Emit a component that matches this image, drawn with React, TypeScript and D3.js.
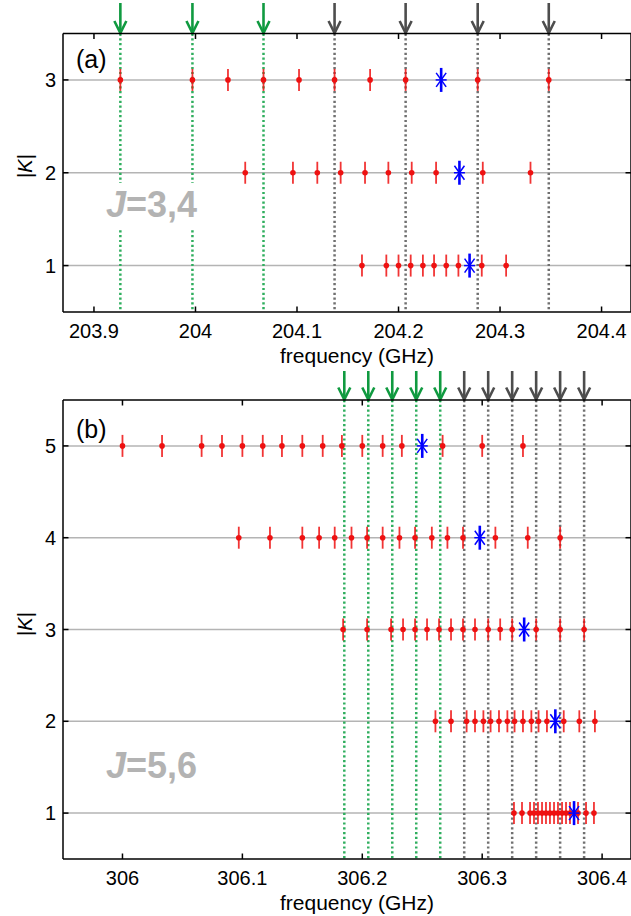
import React from 'react';
import * as d3 from 'd3';

// ---------- data ----------
const xTicksA = [203.9, 204, 204.1, 204.2, 204.3, 204.4];
const xTickLabelsA = ['203.9', '204', '204.1', '204.2', '204.3', '204.4'];
const yTicksA = [1, 2, 3];
const xTicksB = [306, 306.1, 306.2, 306.3, 306.4];
const xTickLabelsB = ['306', '306.1', '306.2', '306.3', '306.4'];
const yTicksB = [1, 2, 3, 4, 5];

const aK3 = [203.926, 203.997, 204.032, 204.067, 204.102, 204.137, 204.172, 204.207, 204.278, 204.348];
const aK2 = [204.049, 204.096, 204.12, 204.143, 204.167, 204.19, 204.213, 204.237, 204.283, 204.33];
const aK1 = [204.164, 204.188, 204.2, 204.212, 204.224, 204.235, 204.247, 204.259, 204.282, 204.306];
const aStarK = [3, 2, 1];
const aStarF = [204.242, 204.26, 204.27];
const aArrowsGreen = [203.926, 203.997, 204.067];
const aArrowsGray = [204.137, 204.207, 204.278, 204.348];

const bK5 = [306.0, 306.033, 306.066, 306.083, 306.1, 306.117, 306.133, 306.15, 306.167, 306.183, 306.2, 306.217, 306.233, 306.267, 306.3, 306.334];
const bK4 = [306.097, 306.123, 306.15, 306.164, 306.177, 306.191, 306.204, 306.217, 306.231, 306.244, 306.258, 306.271, 306.284, 306.311, 306.338, 306.365];
const bK3 = [306.184, 306.204, 306.224, 306.234, 306.244, 306.254, 306.264, 306.274, 306.284, 306.294, 306.305, 306.315, 306.325, 306.345, 306.365, 306.385];
const bK2 = [306.261, 306.274, 306.287, 306.294, 306.301, 306.307, 306.314, 306.321, 306.327, 306.334, 306.341, 306.347, 306.354, 306.368, 306.381, 306.394];
const bK1 = [306.3265, 306.3332, 306.3399, 306.3432, 306.3465, 306.3499, 306.3532, 306.3565, 306.3599, 306.3632, 306.3666, 306.3699, 306.3732, 306.3799, 306.3866, 306.3932];
const bStarK = [5, 4, 3, 2, 1];
const bStarF = [306.25, 306.298, 306.335, 306.361, 306.3766];
const bArrowsGreen = [306.185, 306.205, 306.225, 306.245, 306.265];
const bArrowsGray = [306.285, 306.305, 306.325, 306.345, 306.365, 306.385];

// ---------- styles ----------
const FONT = "'Liberation Sans', Arial, Helvetica, sans-serif";
const RED = '#ee1111';
const BLUE = '#0000ff';
const GREEN_ARROW = '#109a40';
const GREEN_LINE = '#2fae5e';
const GRAY_ARROW = '#4d4d4d';
const GRAY_LINE = '#707070';
const GRID = '#b4b4b4';

type PanelProps = {
  xDomain: [number, number];
  yDomain: [number, number];
  top: number;
  bottom: number;
  xTicks: number[];
  xTickLabels: string[];
  yTicks: number[];
  rows: { k: number; f: number[] }[];
  starK: number[];
  starF: number[];
  arrowsGreen: number[];
  arrowsGray: number[];
  arrowTop: number;
  tag: string;
  tagY: number;
  jText: string;
  jX: number;
  jY: number;
  boxY: number;
  ylabelY: number;
};

const LEFT = 63;
const RIGHT = 631;

function Panel(p: PanelProps) {
  const x = d3.scaleLinear().domain(p.xDomain).range([LEFT, RIGHT]);
  const y = d3.scaleLinear().domain(p.yDomain).range([p.bottom, p.top]);
  const tick = 5.5;
  const arrow = (f: number, color: string, key: string) => {
    const xx = x(f);
    const tip = p.top - 0.5;
    return (
      <g key={key} stroke={color} strokeWidth={2.6} fill="none">
        <line x1={xx} x2={xx} y1={p.arrowTop} y2={tip - 1} />
        <path d={`M${xx - 6},${tip - 12} L${xx},${tip} L${xx + 6},${tip - 12}`} strokeLinejoin="miter" />
      </g>
    );
  };
  return (
    <g fontFamily={FONT}>
      {/* grid */}
      {p.yTicks.map((t) => (
        <line key={'g' + t} x1={LEFT} x2={RIGHT} y1={y(t)} y2={y(t)} stroke={GRID} strokeWidth={1.5} />
      ))}
      {/* dotted vertical lines */}
      {p.arrowsGreen.map((f, i) => (
        <line key={'vg' + i} x1={x(f)} x2={x(f)} y1={p.top} y2={p.bottom} stroke={GREEN_LINE} strokeWidth={2.5} strokeDasharray="2.2,2.6" />
      ))}
      {p.arrowsGray.map((f, i) => (
        <line key={'vk' + i} x1={x(f)} x2={x(f)} y1={p.top} y2={p.bottom} stroke={GRAY_LINE} strokeWidth={2.5} strokeDasharray="2.2,2.6" />
      ))}
      {/* J label box */}
      <rect x={p.jX - 5} y={p.boxY} width={106} height={46} fill="#fff" />
      <text x={p.jX} y={p.jY} fontSize={36} fontWeight="bold" fill="#b3b3b3">
        <tspan fontStyle="italic">J</tspan>
        {p.jText}
      </text>
      {/* data rows */}
      {p.rows.map((r) =>
        r.f.map((f, i) => (
          <g key={'p' + r.k + '_' + i}>
            <line x1={x(f)} x2={x(f)} y1={y(r.k) - 11} y2={y(r.k) + 11} stroke={RED} strokeOpacity={0.85} strokeWidth={1.8} />
            <circle cx={x(f)} cy={y(r.k)} r={2.8} fill={RED} />
          </g>
        ))
      )}
      {/* blue stars */}
      {p.starF.map((f, i) => {
        const cx = x(f);
        const cy = y(p.starK[i]);
        return (
          <g key={'s' + i} stroke={BLUE} fill="none">
            <line x1={cx} x2={cx} y1={cy - 12} y2={cy + 12} strokeWidth={2.6} />
            <line x1={cx - 5} x2={cx + 5} y1={cy - 7} y2={cy + 7} strokeWidth={1.5} />
            <line x1={cx - 5} x2={cx + 5} y1={cy + 7} y2={cy - 7} strokeWidth={1.5} />
            <line x1={cx - 5.5} x2={cx + 5.5} y1={cy} y2={cy} strokeWidth={1.5} />
          </g>
        );
      })}
      {/* arrows */}
      {p.arrowsGreen.map((f, i) => arrow(f, GREEN_ARROW, 'ag' + i))}
      {p.arrowsGray.map((f, i) => arrow(f, GRAY_ARROW, 'ak' + i))}
      {/* axes box */}
      <g stroke="#000" strokeWidth={1.5} fill="none">
        <line x1={LEFT} x2={RIGHT} y1={p.top} y2={p.top} />
        <line x1={LEFT} x2={RIGHT} y1={p.bottom} y2={p.bottom} />
        <line x1={LEFT} x2={LEFT} y1={p.top} y2={p.bottom} />
        <line x1={RIGHT} x2={RIGHT} y1={p.top} y2={p.bottom} />
        {p.xTicks.map((t) => (
          <g key={'xt' + t}>
            <line x1={x(t)} x2={x(t)} y1={p.bottom} y2={p.bottom - tick} />
            <line x1={x(t)} x2={x(t)} y1={p.top} y2={p.top + tick} />
          </g>
        ))}
        {p.yTicks.map((t) => (
          <g key={'yt' + t}>
            <line x1={LEFT} x2={LEFT + tick} y1={y(t)} y2={y(t)} />
            <line x1={RIGHT} x2={RIGHT - tick} y1={y(t)} y2={y(t)} />
          </g>
        ))}
      </g>
      {/* tick labels */}
      {p.xTicks.map((t, i) => (
        <text key={'xl' + t} x={x(t)} y={p.bottom + 26} fontSize={20} textAnchor="middle" fill="#000">
          {p.xTickLabels[i]}
        </text>
      ))}
      {p.yTicks.map((t) => (
        <text key={'yl' + t} x={56} y={y(t) + 7} fontSize={20} textAnchor="end" fill="#000">
          {String(t)}
        </text>
      ))}
      {/* axis labels */}
      <text x={357} y={p.bottom + 51} fontSize={21} textAnchor="middle" fill="#000">
        frequency (GHz)
      </text>
      <text transform={`translate(32,${p.ylabelY}) rotate(-90)`} fontSize={20} textAnchor="middle" fill="#000">
        |<tspan fontStyle="italic">K</tspan>|
      </text>
      <text x={76} y={p.tagY} fontSize={25} fill="#000">
        {p.tag}
      </text>
    </g>
  );
}

export default function App() {
  return (
    <svg
      width={631}
      height={916}
      viewBox="0 0 631 916"
      style={{ position: 'absolute', left: 0, top: 0, background: '#fff' }}
    >
      <rect x={0} y={0} width={631} height={916} fill="#fff" />
      <Panel
        xDomain={[203.8695, 204.429]}
        yDomain={[0.5, 3.5]}
        top={33.5}
        bottom={312}
        xTicks={xTicksA}
        xTickLabels={xTickLabelsA}
        yTicks={yTicksA}
        rows={[
          { k: 3, f: aK3 },
          { k: 2, f: aK2 },
          { k: 1, f: aK1 },
        ]}
        starK={aStarK}
        starF={aStarF}
        arrowsGreen={aArrowsGreen}
        arrowsGray={aArrowsGray}
        arrowTop={3}
        tag="(a)"
        tagY={68}
        jText="=3,4"
        jX={106}
        jY={217}
        boxY={183}
        ylabelY={166}
      />
      <Panel
        xDomain={[305.9504, 306.4241]}
        yDomain={[0.5, 5.5]}
        top={400}
        bottom={859}
        xTicks={xTicksB}
        xTickLabels={xTickLabelsB}
        yTicks={yTicksB}
        rows={[
          { k: 5, f: bK5 },
          { k: 4, f: bK4 },
          { k: 3, f: bK3 },
          { k: 2, f: bK2 },
          { k: 1, f: bK1 },
        ]}
        starK={bStarK}
        starF={bStarF}
        arrowsGreen={bArrowsGreen}
        arrowsGray={bArrowsGray}
        arrowTop={371}
        tag="(b)"
        tagY={438}
        jText="=5,6"
        jX={106}
        jY={778}
        boxY={744}
        ylabelY={624}
      />
    </svg>
  );
}
